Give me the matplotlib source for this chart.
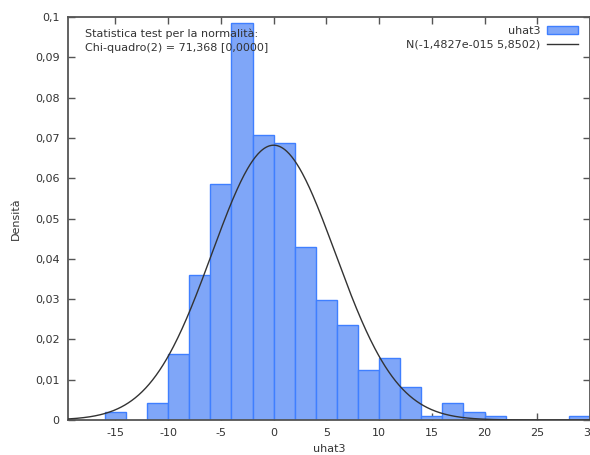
"""Histogram of uhat3 residuals with fitted normal density (gretl style)."""

import numpy as np
import matplotlib
matplotlib.use("Agg")
import matplotlib.pyplot as plt
from matplotlib.lines import Line2D
from matplotlib.patches import Patch
from matplotlib.ticker import FuncFormatter

plt.rcParams["axes.unicode_minus"] = False

TEXT = "#333333"
SPINE = "#555555"
BAR_FILL = "#7FA6F8"
BAR_EDGE = "#3F7FFF"
CURVE = "#333333"

# bin left edges (width 2) and densities
bin_left = [-16, -12, -10, -8, -6, -4, -2, 0, 2, 4, 6, 8, 10, 12, 14, 16, 18, 20, 28]
density = [0.0021, 0.0042, 0.01645, 0.0360, 0.0586, 0.0985, 0.0707, 0.0687,
           0.0430, 0.0299, 0.0237, 0.0125, 0.0155, 0.0083, 0.0011, 0.0042,
           0.0021, 0.0011, 0.0011]
bin_width = 2.0

# fitted normal from the legend
norm_mean = -1.4827e-15
norm_sd = 5.8502

x_ticks = [-15, -10, -5, 0, 5, 10, 15, 20, 25, 30]
y_ticks = [0, 0.01, 0.02, 0.03, 0.04, 0.05, 0.06, 0.07, 0.08, 0.09, 0.1]


def it_number(value, _pos=None):
    text = f"{value:.2f}".rstrip("0").rstrip(".")
    return text.replace(".", ",")


fig = plt.figure(figsize=(5.9, 4.55), dpi=100)
ax = fig.add_axes([0.1153, 0.0769, 0.8847, 0.8857])

ax.bar(bin_left, density, width=bin_width, align="edge",
       color=BAR_FILL, edgecolor=BAR_EDGE, linewidth=1.0, zorder=2)

xs = np.linspace(-19.5, 30, 600)
pdf = np.exp(-0.5 * ((xs - norm_mean) / norm_sd) ** 2) / (norm_sd * np.sqrt(2 * np.pi))
ax.plot(xs, pdf, color=CURVE, linewidth=1.0, zorder=3)

ax.set_xlim(-19.5, 30)
ax.set_ylim(0, 0.1)
ax.set_xticks(x_ticks)
ax.set_yticks(y_ticks)
ax.xaxis.set_major_formatter(FuncFormatter(lambda v, _p: f"{v:g}"))
ax.yaxis.set_major_formatter(FuncFormatter(it_number))

ax.tick_params(direction="in", length=5, width=1, colors=SPINE, labelcolor=TEXT,
               labelsize=8, top=True, right=True, pad=6)
for side in ax.spines.values():
    side.set_color(SPINE)
    side.set_linewidth(1.3)

ax.set_xlabel("uhat3", fontsize=8, color=TEXT, labelpad=4)
ax.set_ylabel("Densità", fontsize=8, color=TEXT, labelpad=10)

ax.text(0.033, 0.972, "Statistica test per la normalità:", transform=ax.transAxes,
        fontsize=8, color=TEXT, va="top", ha="left")
ax.text(0.033, 0.935, "Chi-quadro(2) = 71,368 [0,0000]", transform=ax.transAxes,
        fontsize=8, color=TEXT, va="top", ha="left")

handles = [
    Patch(facecolor=BAR_FILL, edgecolor=BAR_EDGE, linewidth=1.0),
    Line2D([0], [0], color=CURVE, linewidth=1.0),
]
labels = ["uhat3", "N(-1,4827e-015 5,8502)"]
leg = ax.legend(handles, labels, loc="upper right", bbox_to_anchor=(0.99, 0.995),
                frameon=False, fontsize=8, markerfirst=False, handlelength=2.8,
                handleheight=0.8, labelspacing=0.35, borderaxespad=0.2,
                handletextpad=0.6)
for t in leg.get_texts():
    t.set_color(TEXT)

fig.savefig("out.png", dpi=100, facecolor="white")
